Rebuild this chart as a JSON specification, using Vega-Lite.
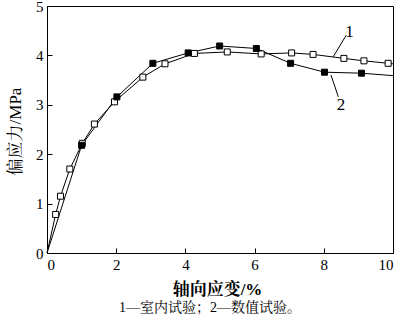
{
  "$schema": "https://vega.github.io/schema/vega-lite/v6.json",
  "width": 346,
  "height": 247,
  "autosize": {"type": "none"},
  "padding": {"left": 47, "top": 6, "right": 7, "bottom": 66},
  "background": "white",
  "config": {
    "font": "Liberation Serif, Noto Serif CJK SC, Noto Sans CJK SC",
    "view": {"stroke": "black", "strokeWidth": 1},
    "axis": {
      "grid": false,
      "domainColor": "black",
      "domainWidth": 1,
      "tickColor": "black",
      "tickWidth": 1,
      "tickSize": -5,
      "labelColor": "black",
      "labelFontSize": 15,
      "labelFont": "Liberation Serif",
      "titleColor": "black",
      "titleFont": "Liberation Serif, Noto Serif CJK SC, Noto Sans CJK SC"
    }
  },
  "datasets": {
    "curves": [
      {"series": "1", "strain": 0, "stress": 0},
      {"series": "1", "strain": 0.25, "stress": 0.78},
      {"series": "1", "strain": 0.39, "stress": 1.15},
      {"series": "1", "strain": 0.66, "stress": 1.70},
      {"series": "1", "strain": 1.02, "stress": 2.22},
      {"series": "1", "strain": 1.37, "stress": 2.61},
      {"series": "1", "strain": 1.95, "stress": 3.06},
      {"series": "1", "strain": 2.77, "stress": 3.56},
      {"series": "1", "strain": 3.41, "stress": 3.83},
      {"series": "1", "strain": 4.26, "stress": 4.04},
      {"series": "1", "strain": 5.21, "stress": 4.07},
      {"series": "1", "strain": 6.19, "stress": 4.03},
      {"series": "1", "strain": 7.07, "stress": 4.05},
      {"series": "1", "strain": 7.69, "stress": 4.02},
      {"series": "1", "strain": 8.58, "stress": 3.94},
      {"series": "1", "strain": 9.16, "stress": 3.89},
      {"series": "1", "strain": 9.86, "stress": 3.84},
      {"series": "1", "strain": 10, "stress": 3.83},
      {"series": "2", "strain": 0, "stress": 0},
      {"series": "2", "strain": 1.0, "stress": 2.18},
      {"series": "2", "strain": 2.02, "stress": 3.16},
      {"series": "2", "strain": 3.06, "stress": 3.84},
      {"series": "2", "strain": 4.08, "stress": 4.05},
      {"series": "2", "strain": 4.99, "stress": 4.19},
      {"series": "2", "strain": 6.05, "stress": 4.14},
      {"series": "2", "strain": 7.04, "stress": 3.84},
      {"series": "2", "strain": 8.02, "stress": 3.66},
      {"series": "2", "strain": 9.09, "stress": 3.64},
      {"series": "2", "strain": 10, "stress": 3.59}
    ],
    "labels": [
      {"label": "1", "lx1": 8.27, "ly1": 3.97, "lx2": 8.65, "ly2": 4.41, "tx": 8.74, "ty": 4.47},
      {"label": "2", "lx1": 8.21, "ly1": 3.60, "lx2": 8.42, "ly2": 3.16, "tx": 8.5, "ty": 3.0}
    ]
  },
  "title": {
    "text": "1—室内试验；2—数值试验。",
    "orient": "bottom",
    "anchor": "middle",
    "dx": -10,
    "offset": 4,
    "fontSize": 14,
    "fontWeight": "normal",
    "color": "black",
    "font": "Liberation Serif, Noto Serif CJK SC, Noto Sans CJK SC"
  },
  "layer": [
    {
      "data": {"name": "curves"},
      "mark": {"type": "line", "color": "black", "strokeWidth": 1},
      "encoding": {
        "x": {
          "field": "strain", "type": "quantitative",
          "scale": {"domain": [0, 10], "nice": false},
          "axis": {
            "values": [0, 2, 4, 6, 8, 10],
            "title": "轴向应变/%",
            "titleFontSize": 17,
            "titleFontWeight": "bold",
            "titleX": 170,
            "titleY": 36,
            "titleBaseline": "middle",
            "titleAlign": "center",
            "labelPadding": 9
          }
        },
        "y": {
          "field": "stress", "type": "quantitative",
          "scale": {"domain": [0, 5], "nice": false},
          "axis": {
            "values": [0, 1, 2, 3, 4, 5],
            "title": "偏应力/MPa",
            "titleFontSize": 17,
            "titleFontWeight": "normal",
            "titleX": -32,
            "titleY": 125,
            "titleAngle": -90,
            "titleBaseline": "middle",
            "titleAlign": "center",
            "labelPadding": 9
          }
        },
        "detail": {"field": "series"}
      }
    },
    {
      "data": {"name": "curves"},
      "transform": [{"filter": "datum.strain > 0 && datum.strain < 10"}],
      "mark": {"type": "point", "shape": "square", "size": 36, "stroke": "black", "strokeWidth": 1, "opacity": 1, "filled": false},
      "encoding": {
        "x": {"field": "strain", "type": "quantitative"},
        "y": {"field": "stress", "type": "quantitative"},
        "fill": {
          "field": "series", "type": "nominal",
          "scale": {"domain": ["1", "2"], "range": ["white", "black"]},
          "legend": null
        },
        "order": {"field": "series"}
      }
    },
    {
      "data": {"name": "labels"},
      "mark": {"type": "rule", "color": "black", "strokeWidth": 1},
      "encoding": {
        "x": {"field": "lx1", "type": "quantitative"},
        "y": {"field": "ly1", "type": "quantitative"},
        "x2": {"field": "lx2"},
        "y2": {"field": "ly2"}
      }
    },
    {
      "data": {"name": "labels"},
      "mark": {"type": "text", "fontSize": 17, "color": "black", "font": "Liberation Serif", "baseline": "middle", "align": "center"},
      "encoding": {
        "x": {"field": "tx", "type": "quantitative"},
        "y": {"field": "ty", "type": "quantitative"},
        "text": {"field": "label"}
      }
    }
  ]
}
